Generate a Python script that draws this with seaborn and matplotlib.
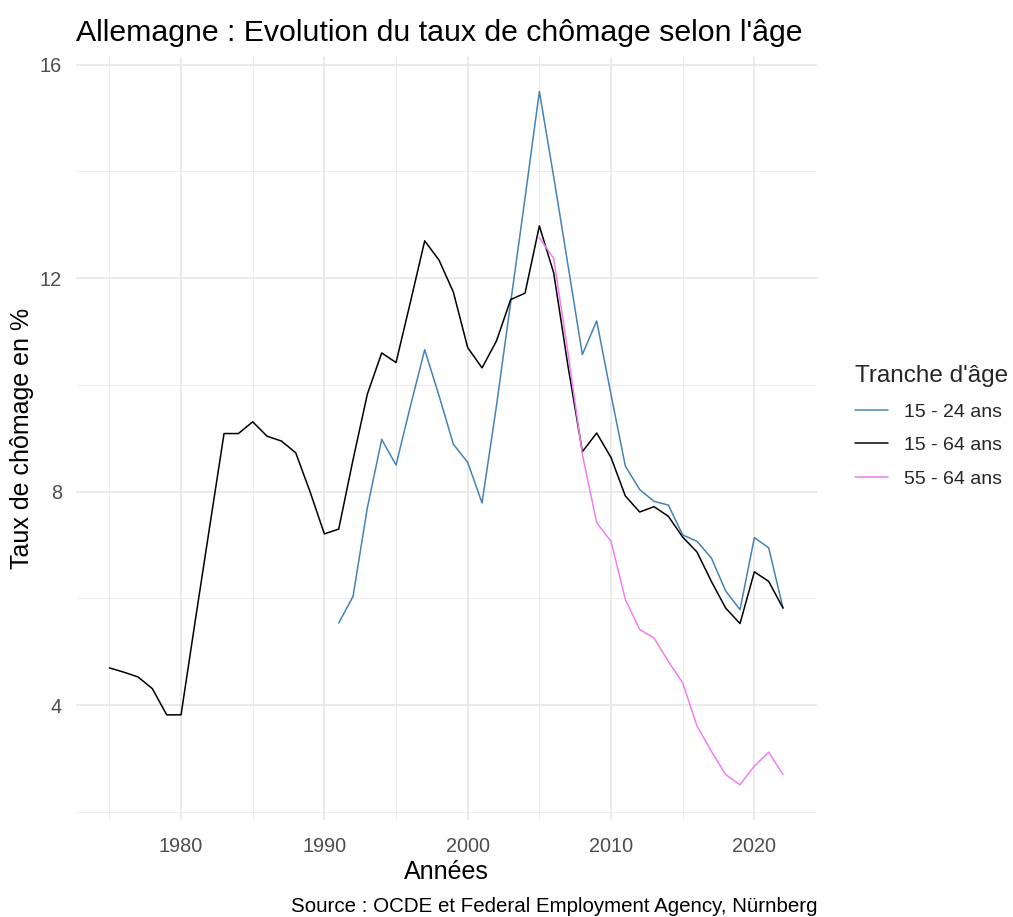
import numpy as np
import pandas as pd
import matplotlib
matplotlib.use("Agg")
import matplotlib.pyplot as plt
import seaborn as sns
from matplotlib.ticker import FixedLocator

# ---- data ----
years_total = list(range(1975, 2023))
total_15_64 = [4.70, 4.62, 4.53, 4.31, 3.82, 3.82, 5.60, 7.35, 9.09, 9.09,
               9.31, 9.04, 8.95, 8.73, 8.00, 7.21, 7.30, 8.60, 9.83, 10.60,
               10.42, 11.55, 12.70, 12.34, 11.74, 10.70, 10.32, 10.82, 11.60, 11.72,
               12.98, 12.10, 10.35, 8.75, 9.10, 8.64, 7.92, 7.62, 7.72, 7.54,
               7.15, 6.87, 6.32, 5.82, 5.53, 6.50, 6.32, 5.82]

years_youth = list(range(1991, 2023))
youth_15_24 = [5.54, 6.04, 7.70, 8.98, 8.50, 9.60, 10.66, 9.80, 8.89, 8.55,
               7.79, 9.60, 11.55, 13.50, 15.50, 13.90, 12.24, 10.57, 11.20, 9.82,
               8.48, 8.04, 7.82, 7.75, 7.19, 7.07, 6.76, 6.14, 5.79, 7.14,
               6.95, 5.82]

years_senior = list(range(2005, 2023))
senior_55_64 = [12.76, 12.37, 10.60, 8.70, 7.42, 7.07, 5.98, 5.42, 5.26, 4.82,
                4.42, 3.61, 3.14, 2.70, 2.51, 2.86, 3.12, 2.70]

labels = ["15 - 24 ans", "15 - 64 ans", "55 - 64 ans"]
colors = ["#4682B4", "#000000", "#F07EF0"]

x_major = [1980, 1990, 2000, 2010, 2020]
x_minor = [1975, 1985, 1995, 2005, 2015]
y_major = [4, 8, 12, 16]
y_minor = [2, 6, 10, 14]

df = pd.concat([
    pd.DataFrame({"Année": years_youth, "Taux": youth_15_24, "Tranche": labels[0]}),
    pd.DataFrame({"Année": years_total, "Taux": total_15_64, "Tranche": labels[1]}),
    pd.DataFrame({"Année": years_senior, "Taux": senior_55_64, "Tranche": labels[2]}),
], ignore_index=True)

# ---- style ----
sns.set_style("white")
plt.rcParams["font.family"] = ["Liberation Sans", "DejaVu Sans"]

W, H = 1013, 917
fig = plt.figure(figsize=(W / 100, H / 100), dpi=100)
L, R, T, B = 75.7, 816.7, 56.7, 820.0
ax = fig.add_axes([L / W, 1 - B / H, (R - L) / W, (B - T) / H])

sns.lineplot(data=df, x="Année", y="Taux", hue="Tranche", hue_order=labels,
             palette=dict(zip(labels, colors)), linewidth=1.1, ax=ax,
             estimator=None, sort=True)

ax.set_xlim(1972.65, 2024.35)
ax.set_ylim(1.85, 16.15)
ax.xaxis.set_major_locator(FixedLocator(x_major))
ax.xaxis.set_minor_locator(FixedLocator(x_minor))
ax.yaxis.set_major_locator(FixedLocator(y_major))
ax.yaxis.set_minor_locator(FixedLocator(y_minor))
ax.grid(which="major", color="#E8E8E8", linewidth=1.2)
ax.grid(which="minor", color="#EDEDED", linewidth=0.7)
ax.set_axisbelow(True)
for s in ax.spines.values():
    s.set_visible(False)
ax.tick_params(which="both", length=0)
ax.tick_params(axis="x", pad=12, labelsize=14.3, labelcolor="#4D4D4D")
ax.tick_params(axis="y", pad=10, labelsize=14.3, labelcolor="#4D4D4D")

ax.set_xlabel("Années", fontsize=18, color="black")
ax.set_ylabel("Taux de chômage en %", fontsize=18, color="black")
ax.xaxis.set_label_coords(0.5, (B - 860) / (B - T))
ax.yaxis.set_label_coords((34 - L) / (R - L), 0.5)

fig.text(L / W, 1 - 33 / H, "Allemagne : Evolution du taux de chômage selon l'âge",
         fontsize=21.8, ha="left", va="center", color="black")
fig.text(817 / W, 1 - 907 / H, "Source : OCDE et Federal Employment Agency, Nürnberg",
         fontsize=14.8, ha="right", va="center", color="black")

leg = ax.legend(title="Tranche d'âge", loc="upper left",
                bbox_to_anchor=(855 / W, 1 - 365 / H), bbox_transform=fig.transFigure,
                frameon=False, fontsize=14, title_fontsize=17.5,
                handlelength=1.7, handletextpad=0.82, labelspacing=0.82,
                borderpad=0, borderaxespad=0, alignment="left")
for line in leg.get_lines():
    line.set_linewidth(1.1)

fig.savefig("out.png", dpi=100)
